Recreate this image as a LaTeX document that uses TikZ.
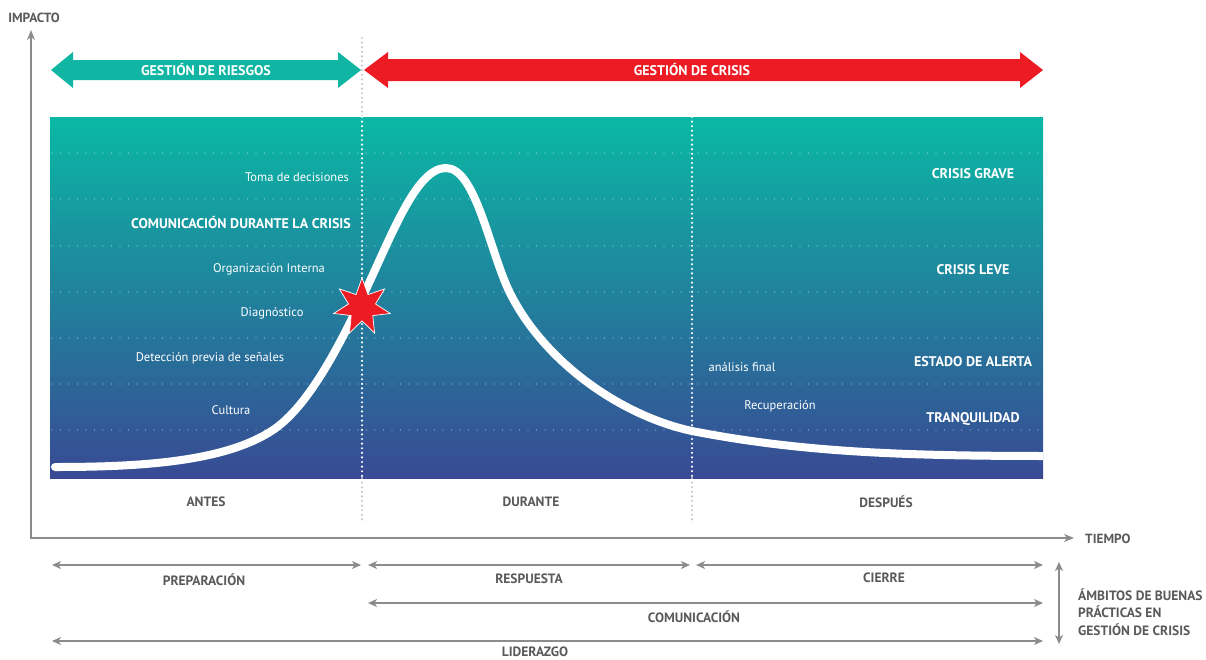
\documentclass[tikz,border=0pt]{standalone}
\usepackage{fontspec}
\setmainfont{PT Sans}
\usetikzlibrary{arrows.meta,shapes.geometric}

\definecolor{riskteal}{RGB}{16,182,163}
\definecolor{crisisred}{RGB}{237,28,36}
\definecolor{shadetop}{RGB}{10,184,165}
\definecolor{shademid}{RGB}{34,133,160}
\definecolor{shadebot}{RGB}{56,74,148}
\definecolor{labelgray}{RGB}{88,89,91}
\definecolor{axisgray}{RGB}{140,140,140}
\definecolor{dotgray}{RGB}{200,200,200}

\begin{document}
\begin{tikzpicture}[x=1pt,y=-1pt,
  graylbl/.style={text=labelgray,font=\bfseries\fontsize{13.5}{16}\selectfont,inner sep=0pt},
  whitelbl/.style={text=white,font=\fontsize{12.5}{15}\selectfont,inner sep=0pt},
  whitebold/.style={text=white,font=\bfseries\fontsize{14}{16}\selectfont,inner sep=0pt},
  bandlbl/.style={text=white,font=\bfseries\fontsize{14}{16}\selectfont,inner sep=0pt},
  axisline/.style={draw=axisgray,line width=1.5pt},
  spanarrow/.style={draw=axisgray,line width=1.3pt,
    {Stealth[length=9pt,width=8pt,inset=2.5pt]}-{Stealth[length=9pt,width=8pt,inset=2.5pt]}},
  griddots/.style={draw=white,draw opacity=0.55,line width=1.1pt,line cap=round,
    dash pattern=on 0pt off 8.5pt},
  phasedots/.style={draw=white,line width=2.4pt,line cap=round,dash pattern=on 0pt off 4.6pt},
  phasedotsout/.style={draw=dotgray,line width=2.4pt,line cap=round,dash pattern=on 0pt off 4.6pt},
  crisiscurve/.style={draw=white,line width=8pt,line cap=round}
]
\useasboundingbox (0,0) rectangle (1206,659);

% ---- background band with vertical gradient ----
\shade[top color=shadetop,middle color=shademid,bottom color=shadebot]
  (50,117) rectangle (1043,478);

% ---- horizontal level lines ----
\foreach \yy in {153,199,246,292,338,384,430}
  \draw[griddots] (52,\yy) -- (1043,\yy);

% ---- phase separators ----
\coordinate (sepA top) at (362,38);
\coordinate (sepA in) at (362,117);
\coordinate (sepA out) at (362,478);
\coordinate (sepA bot) at (362,520);
\coordinate (sepB in) at (692,117);
\coordinate (sepB out) at (692,478);
\coordinate (sepB bot) at (692,520);
\draw[phasedotsout] (sepA top) -- (sepA in);
\draw[phasedots] (sepA in) -- (sepA out);
\draw[phasedotsout] (sepA out) -- (sepA bot);
\draw[phasedots] (sepB in) -- (sepB out);
\draw[phasedotsout] (sepB out) -- (sepB bot);

% ---- crisis curve ----
\begin{scope}
  \clip (50,117) rectangle (1043,478);
  \draw[crisiscurve] (55,467)
    .. controls (140,467) and (225,462) .. (273,430)
    .. controls (309,406) and (340,344) .. (362,298)
    .. controls (392,235) and (416,168) .. (446,168)
    .. controls (476,168) and (490,253) .. (510,293)
    .. controls (545,363) and (622,416) .. (692,431)
    .. controls (800,452) and (900,456) .. (1050,456);
\end{scope}

% ---- crisis onset ----
\node[star,star points=7,star point ratio=2.1,minimum size=58pt,inner sep=0pt,
  fill=crisisred,draw=white,line width=0.7pt] (onset) at (362,307) {};

% ---- management arrows ----
\fill[riskteal] (51,70) -- (73,52) -- (73,60) -- (338,60) -- (338,52) -- (361,70)
  -- (338,88) -- (338,80) -- (73,80) -- (73,88) -- cycle;
\fill[crisisred] (364,70) -- (388,52) -- (388,59) -- (1020,59) -- (1020,52) -- (1043,70)
  -- (1020,88) -- (1020,81) -- (388,81) -- (388,88) -- cycle;
\node[whitebold] (riesgos) at (206,70) {GESTIÓN DE RIESGOS};
\node[whitebold] (crisis) at (692,70) {GESTIÓN DE CRISIS};

% ---- axes ----
\coordinate (ytip) at (31,30);
\coordinate (origin) at (31,538);
\coordinate (xtip) at (1074,538);
\draw[axisline,{Stealth[length=10pt,width=8pt,inset=3pt]}-{Stealth[length=10pt,width=8pt,inset=3pt]}]
  (ytip) -- (origin) -- (xtip);
\node[graylbl,font=\bfseries\fontsize{13.3}{16}\selectfont] (impacto) at (34,18) {IMPACTO};
\node[graylbl,font=\bfseries\fontsize{13.3}{16}\selectfont,anchor=west] (tiempo) at (1085,539) {TIEMPO};

% ---- labels inside the band ----
\node[whitelbl] (toma) at (297,177) {Toma de decisiones};
\node[whitebold] (comdur) at (241,223) {COMUNICACIÓN DURANTE LA CRISIS};
\node[whitelbl] (orgint) at (269,269) {Organización Interna};
\node[whitelbl] (diag) at (272,313) {Diagnóstico};
\node[whitelbl] (deteccion) at (210,358) {Detección previa de señales};
\node[whitelbl] (cultura) at (231,410) {Cultura};
\node[whitelbl] (analisis) at (742,367) {análisis final};
\node[whitelbl] (recup) at (780,406) {Recuperación};

\node[bandlbl] (grave) at (973,174) {CRISIS GRAVE};
\node[bandlbl] (leve) at (973,270) {CRISIS LEVE};
\node[bandlbl] (alerta) at (973,362) {ESTADO DE ALERTA};
\node[bandlbl] (tranq) at (973,419) {TRANQUILIDAD};

% ---- phases ----
\node[graylbl] (antes) at (206,502) {ANTES};
\node[graylbl] (durante) at (531,502) {DURANTE};
\node[graylbl] (despues) at (886,502) {DESPUÉS};

% ---- areas of good practice ----
\coordinate (prepL) at (52,565);  \coordinate (prepR) at (361,565);
\coordinate (respL) at (368,565); \coordinate (respR) at (690,565);
\coordinate (cierL) at (696,565); \coordinate (cierR) at (1043,565);
\coordinate (comL) at (368,603);  \coordinate (comR) at (1043,603);
\coordinate (lidL) at (52,641);   \coordinate (lidR) at (1043,641);
\coordinate (ambT) at (1059,562); \coordinate (ambB) at (1059,644);

\draw[spanarrow] (prepL) -- (prepR);
\draw[spanarrow] (respL) -- (respR);
\draw[spanarrow] (cierL) -- (cierR);
\draw[spanarrow] (comL) -- (comR);
\draw[spanarrow] (lidL) -- (lidR);
\draw[spanarrow] (ambT) -- (ambB);

\node[graylbl] (prep) at (204,580) {PREPARACIÓN};
\node[graylbl] (resp) at (529,579) {RESPUESTA};
\node[graylbl] (cierre) at (884,578) {CIERRE};
\node[graylbl] (comun) at (694,617) {COMUNICACIÓN};
\node[graylbl,anchor=base] (lider) at (535,656) {LIDERAZGO};

\node[graylbl,font=\bfseries\fontsize{13.5}{17.5}\selectfont,align=left,anchor=west]
  (ambitos) at (1078,612) {ÁMBITOS DE BUENAS\\PRÁCTICAS EN\\GESTIÓN DE CRISIS};
\end{tikzpicture}
\end{document}
